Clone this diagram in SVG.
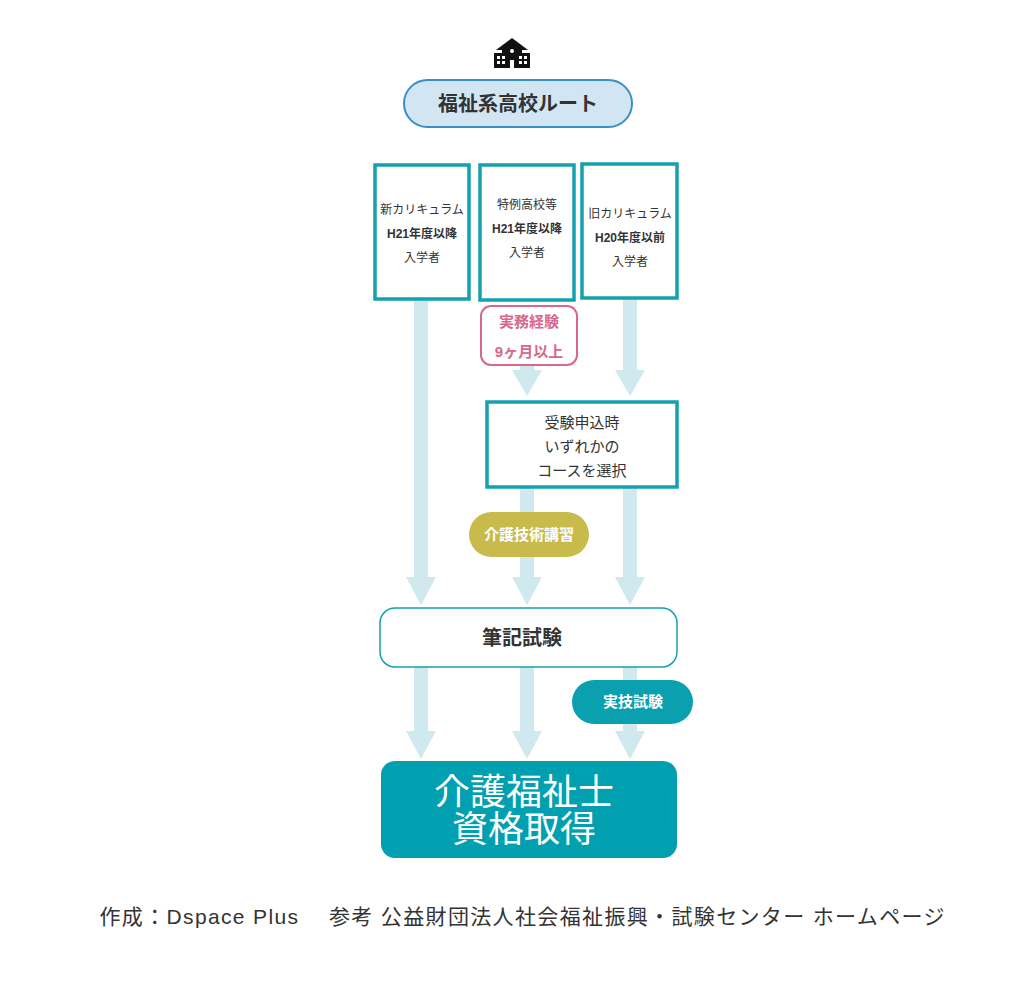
<svg xmlns="http://www.w3.org/2000/svg" width="1024" height="981" viewBox="0 0 1024 981">
<style>
.t{font-family:"Liberation Sans","Noto Sans CJK JP",sans-serif;fill:#333;text-anchor:middle}
.box{fill:#fff;stroke:#14a0ae;stroke-width:3.5}
.shaft{fill:#cfe9ef}
</style>
<rect width="1024" height="981" fill="#fff"/>
<g id="connectors">
<rect class="shaft" x="414" y="300" width="14" height="277"/><polygon class="shaft" points="406,577 436,577 421,605"/>
<rect class="shaft" x="520" y="365" width="14" height="7"/><polygon class="shaft" points="512,370 542,370 527,396"/>
<rect class="shaft" x="623" y="298" width="14" height="72"/><polygon class="shaft" points="615,370 645,370 630,396"/>
<rect class="shaft" x="520" y="487" width="14" height="90"/><polygon class="shaft" points="512,577 542,577 527,605"/>
<rect class="shaft" x="623" y="487" width="14" height="90"/><polygon class="shaft" points="615,577 645,577 630,605"/>
<rect class="shaft" x="414" y="667" width="14" height="64"/><polygon class="shaft" points="406,731 436,731 421,759"/>
<rect class="shaft" x="520" y="667" width="14" height="64"/><polygon class="shaft" points="512,731 542,731 527,759"/>
<rect class="shaft" x="623" y="667" width="14" height="64"/><polygon class="shaft" points="615,731 645,731 630,759"/>
</g>
<g id="icon" fill="#111">
<polygon points="512,38 496,50 528,50"/>
<rect x="502" y="46" width="20" height="22"/>
<rect x="494" y="53" width="36" height="15"/>
<g fill="#fff"><rect x="497" y="56" width="3" height="3"/><rect x="502" y="56" width="3" height="3"/><rect x="519" y="56" width="3" height="3"/><rect x="524" y="56" width="3" height="3"/><rect x="497" y="61" width="3" height="3"/><rect x="502" y="61" width="3" height="3"/><rect x="519" y="61" width="3" height="3"/><rect x="524" y="61" width="3" height="3"/><rect x="510" y="60" width="4" height="8"/><circle cx="512" cy="51" r="2"/></g>
</g>
<g id="title"><rect x="404" y="80" width="228" height="47" rx="23.5" fill="#d2e5f2" stroke="#3a8fc4" stroke-width="2"/><text class="t" x="518" y="111" font-size="20" font-weight="bold">福祉系高校ルート</text></g>
<g id="new"><rect class="box" x="375" y="165" width="94" height="134"/><text class="t" font-size="12" x="422"><tspan x="422" y="214">新カリキュラム</tspan><tspan x="422" y="238" font-weight="bold">H21年度以降</tspan><tspan x="422" y="262">入学者</tspan></text></g>
<g id="special"><rect class="box" x="480" y="165" width="94" height="135"/><text class="t" font-size="12"><tspan x="527" y="209">特例高校等</tspan><tspan x="527" y="233" font-weight="bold">H21年度以降</tspan><tspan x="527" y="257">入学者</tspan></text></g>
<g id="old"><rect class="box" x="582" y="164" width="95" height="134"/><text class="t" font-size="12"><tspan x="630" y="218">旧カリキュラム</tspan><tspan x="630" y="242" font-weight="bold">H20年度以前</tspan><tspan x="630" y="266">入学者</tspan></text></g>
<g id="exp"><rect x="481" y="306" width="96" height="59" rx="10" fill="#fff" stroke="#d9668c" stroke-width="2"/><text class="t" font-size="15" font-weight="bold" style="fill:#d9668c"><tspan x="529" y="327">実務経験</tspan><tspan x="529" y="357">9ヶ月以上</tspan></text></g>
<g id="select"><rect class="box" x="487" y="402" width="190" height="85"/><text class="t" font-size="15"><tspan x="582" y="428">受験申込時</tspan><tspan x="582" y="452">いずれかの</tspan><tspan x="582" y="476">コースを選択</tspan></text></g>
<g id="kaigo"><rect x="469" y="512" width="120" height="45" rx="22.5" fill="#c8bb4c"/><text class="t" x="529" y="540" font-size="15" font-weight="bold" style="fill:#fff">介護技術講習</text></g>
<g id="written"><rect x="380" y="608" width="297" height="59" rx="15" fill="#fff" stroke="#14a0ae" stroke-width="1.5"/><text class="t" x="522" y="645" font-size="20" font-weight="bold">筆記試験</text></g>
<g id="practical"><rect x="572" y="680" width="121" height="44" rx="22" fill="#0aa0b0"/><text class="t" x="633" y="707" font-size="15" font-weight="bold" style="fill:#fff">実技試験</text></g>
<g id="final"><rect x="381" y="761" width="296" height="97" rx="14" fill="#00a0b0"/><text class="t" font-size="36" style="fill:#fff"><tspan x="524" y="805">介護福祉士</tspan><tspan x="524" y="842">資格取得</tspan></text></g>
<text class="t" x="522" y="924" font-size="21" textLength="845" lengthAdjust="spacing">作成：Dspace Plus　 参考 公益財団法人社会福祉振興・試験センター ホームページ</text>
</svg>
